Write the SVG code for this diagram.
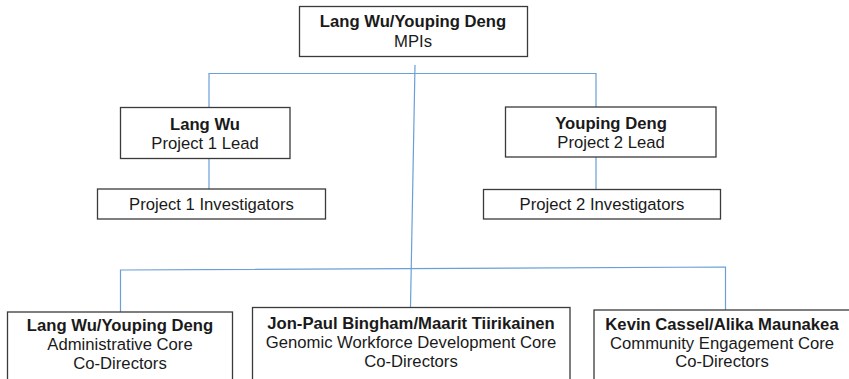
<svg xmlns="http://www.w3.org/2000/svg" width="849" height="379" viewBox="0 0 849 379">
<style>
.box{fill:#fff;stroke:#3a3a3a;stroke-width:1.3}
.c{fill:none;stroke:#6a9fd8;stroke-width:1.2}
text{font-family:"Liberation Sans",Arial,sans-serif;font-size:16.67px;fill:#1a1a1a;text-anchor:middle}
.b{font-weight:bold}
</style>
<rect width="849" height="379" fill="#fff"/>
<g id="connectors">
<path class="c" d="M415,65 L410.5,307.5"/>
<path class="c" d="M208.5,73.5 H596.5"/>
<path class="c" d="M209,73.5 V107.5 M209,158.5 V189"/>
<path class="c" d="M596,73.5 V107 M596,157 V189.5"/>
<path class="c" d="M120.5,312 V270 L725.5,267 V310"/>
</g>
<g id="mpis">
<rect class="box" x="299.5" y="6.5" width="228" height="50"/>
<text class="b" x="413" y="27">Lang Wu/Youping Deng</text>
<text x="413" y="47">MPIs</text>
</g>
<g id="p1lead">
<rect class="box" x="120.5" y="107.5" width="169.5" height="51"/>
<text class="b" x="205" y="130">Lang Wu</text>
<text x="205" y="149">Project 1 Lead</text>
</g>
<g id="p1inv">
<rect class="box" x="97.5" y="189" width="228" height="30"/>
<text x="211.5" y="210">Project 1 Investigators</text>
</g>
<g id="p2lead">
<rect class="box" x="505.5" y="107" width="210.5" height="50"/>
<text class="b" x="611" y="128.5">Youping Deng</text>
<text x="611" y="147.5">Project 2 Lead</text>
</g>
<g id="p2inv">
<rect class="box" x="483.5" y="189.5" width="237" height="29.5"/>
<text x="602" y="210">Project 2 Investigators</text>
</g>
<g id="admin">
<rect class="box" x="7.5" y="312" width="225" height="80"/>
<text class="b" x="120" y="331">Lang Wu/Youping Deng</text>
<text x="120" y="350">Administrative Core</text>
<text x="120" y="368.5">Co-Directors</text>
</g>
<g id="genomic">
<rect class="box" x="252.5" y="307.5" width="317.5" height="85"/>
<text class="b" x="411" y="329">Jon-Paul Bingham/Maarit Tiirikainen</text>
<text x="411" y="348">Genomic Workforce Development Core</text>
<text x="411" y="367">Co-Directors</text>
</g>
<g id="community">
<rect class="box" x="594" y="310" width="256" height="82"/>
<text class="b" x="722" y="329.5">Kevin Cassel/Alika Maunakea</text>
<text x="722" y="348.5">Community Engagement Core</text>
<text x="722" y="367">Co-Directors</text>
</g>
</svg>
